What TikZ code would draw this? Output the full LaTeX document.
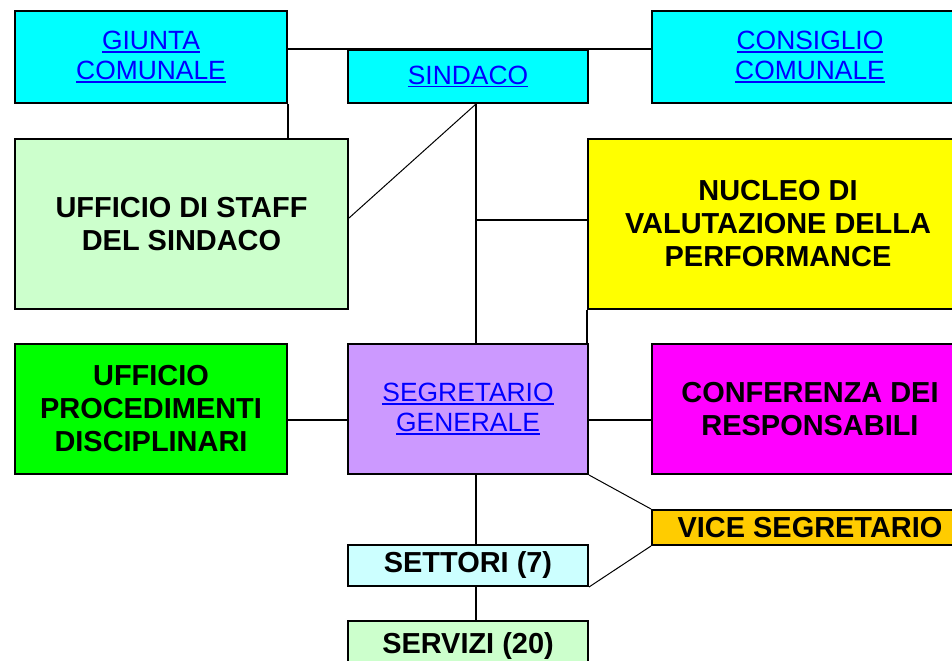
\documentclass[tikz,border=0pt]{standalone}
\usepackage{fontspec}
\setmainfont{Liberation Sans}

\definecolor{organcyan}{HTML}{00FFFF}
\definecolor{staffgreen}{HTML}{CCFFCC}
\definecolor{nucleoyellow}{HTML}{FFFF00}
\definecolor{procgreen}{HTML}{00FF00}
\definecolor{segviolet}{HTML}{CC99FF}
\definecolor{confmagenta}{HTML}{FF00FF}
\definecolor{viceorange}{HTML}{FFCC00}
\definecolor{settcyan}{HTML}{CCFFFF}
\definecolor{linkblue}{HTML}{0000FF}

% underlined hyperlink-like text
\newcommand{\weblink}[1]{\sbox0{#1}\rlap{\rule[-2.3pt]{\wd0}{1.1pt}}\usebox0}

\begin{document}
\begin{tikzpicture}[x=0.75pt, y=-0.75pt,
    box/.style={draw, line width=1.5pt, align=center, inner sep=0pt},
    linkbox/.style={box, text=linkblue, font=\fontsize{19.8}{22.5}\selectfont},
    textbox/.style={box, font=\fontsize{21.7}{24.75}\selectfont\bfseries},
    wire/.style={line width=1.5pt},
    thinwire/.style={line width=0.75pt}]
    \useasboundingbox (0, 0) rectangle (952, 660);

    \node[linkbox, fill=organcyan, minimum width=204pt, minimum height=69pt]
      (giunta) at (151, 57) {\weblink{GIUNTA}\\\weblink{COMUNALE}};
    \node[linkbox, fill=organcyan, minimum width=180pt, minimum height=39.75pt]
      (sindaco) at (468, 76.5) {\weblink{SINDACO}};
    \node[linkbox, fill=organcyan, minimum width=237pt, minimum height=69pt]
      (consiglio) at (810, 57) {\weblink{CONSIGLIO}\\\weblink{COMUNALE}};

    \node[textbox, fill=staffgreen, minimum width=249.75pt, minimum height=127.5pt]
      (staff) at (181.5, 224) {UFFICIO DI STAFF\\DEL SINDACO};
    \node[textbox, fill=nucleoyellow, minimum width=285pt, minimum height=127.5pt]
      (nucleo) at (778, 224) {NUCLEO DI\\VALUTAZIONE DELLA\\PERFORMANCE};

    \node[textbox, fill=procgreen, minimum width=204pt, minimum height=97.5pt]
      (procedimenti) at (151, 409) {UFFICIO\\PROCEDIMENTI\\DISCIPLINARI};
    \node[linkbox, fill=segviolet, minimum width=180pt, minimum height=97.5pt]
      (segretario) at (468, 409) {\weblink{SEGRETARIO}\\\weblink{GENERALE}};
    \node[textbox, fill=confmagenta, minimum width=237pt, minimum height=97.5pt]
      (conferenza) at (810, 409) {CONFERENZA DEI\\RESPONSABILI};

    \node[textbox, fill=viceorange, minimum width=237pt, minimum height=26.25pt]
      (vice) at (810, 527.5) {VICE SEGRETARIO};
    \node[textbox, fill=settcyan, minimum width=180pt, minimum height=30.75pt]
      (settori) at (468, 565.5) {SETTORI (7)};
    \node[textbox, fill=staffgreen, minimum width=180pt, minimum height=37.5pt]
      (servizi) at (468, 646) {SERVIZI (20)};

    \coordinate (trunk) at (476, 0);
    \coordinate (midrow) at (0, 420);

    \draw[wire] (giunta.east |- sindaco.north) -- (consiglio.west |- sindaco.north);
    \draw[wire] (giunta.south east) -- (giunta.south east |- staff.north);
    \draw[wire] (sindaco.south -| trunk) -- (segretario.north -| trunk);
    \draw[thinwire] (sindaco.south -| trunk) -- ([yshift=4.5pt]staff.east);
    \draw[wire] ([yshift=3pt]nucleo.west -| trunk) -- ([yshift=3pt]nucleo.west);
    \draw[wire] (nucleo.south west) -- (nucleo.south west |- segretario.north);
    \draw[wire] (procedimenti.east |- midrow) -- (segretario.west |- midrow);
    \draw[wire] (segretario.east |- midrow) -- (conferenza.west |- midrow);
    \draw[thinwire] (segretario.south east) -- (vice.north west);
    \draw[thinwire] (settori.south east) -- (vice.south west);
    \draw[wire] (segretario.south -| trunk) -- (settori.north -| trunk);
    \draw[wire] (settori.south -| trunk) -- (servizi.north -| trunk);
\end{tikzpicture}
\end{document}
